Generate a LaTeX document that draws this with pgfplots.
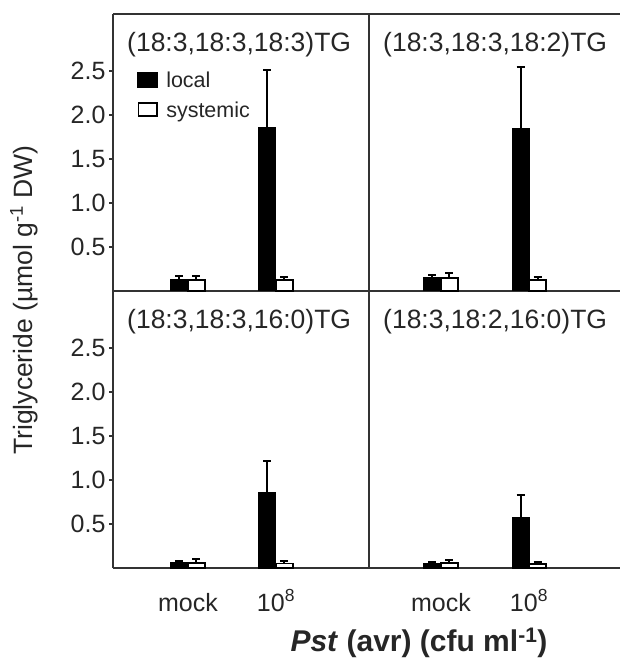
\documentclass[border=0pt]{standalone}
\usepackage{fontspec}
\setmainfont{Liberation Sans}
\usepackage{pgfplots}
\pgfplotsset{compat=1.18}

\definecolor{axisgray}{HTML}{333333}

\pgfplotsset{
  panel/.style={
    scale only axis,
    height=277pt,
    ymin=0, ymax=3.148,
    axis x line*=bottom, axis y line*=left,
    axis line style={draw=axisgray, line width=1.6pt},
    ytick={0.5,1,1.5,2,2.5},
    tick align=outside,
    major tick length=4pt,
    major y tick style={draw=axisgray, line width=1.6pt},
    major x tick style={draw=none},
    xtick={1,2},
    ybar=0pt, bar width=17pt,
    yticklabel style={font=\fontsize{25}{30}\selectfont, text=black!85,
      /pgf/number format/.cd, fixed, fixed zerofill, precision=1, assume math mode=true},
    xticklabel style={font=\fontsize{25}{30}\selectfont, text=black!85, anchor=base, yshift=-39pt},
    clip=false,
  },
  leftpanel/.style={panel, width=256pt, xmin=0.148, xmax=3.057},
  rightpanel/.style={panel, width=251pt, xmin=0.182, xmax=3.034, ytick=\empty},
  localbar/.style={fill=black, draw=black, line width=1pt},
  sysbar/.style={fill=white, draw=black, line width=1.6pt},
  errs/.style={/pgfplots/error bars/.cd, y dir=plus, y explicit,
    error bar style={line width=2pt, black},
    error mark options={rotate=90, mark size=4pt, line width=2pt, black}},
}
\tikzset{
  ttl/.style={anchor=base west, xshift=14pt, yshift=-38pt,
    font=\fontsize{26.5}{30}\selectfont, text=black!85, inner sep=0pt},
  topline/.style={draw=axisgray, line width=1.6pt},
}

\begin{document}
\begin{tikzpicture}
\path[use as bounding box] (0,0) rectangle (621pt,662pt);

% top left
\begin{axis}[leftpanel, at={(113pt,371pt)}, anchor=south west, xticklabels={},
  legend style={at={(0.094,0.79)}, anchor=north west, draw=none, fill=none,
    inner sep=0pt, row sep=12pt, font=\fontsize{21.5}{26}\selectfont,
    nodes={inner sep=0pt, text=black!85},
    /tikz/every odd column/.append style={column sep=8pt}},
  legend cell align=left]
\addplot[localbar, legend image code/.code={\draw[fill=black,draw=black,line width=1pt] (0pt,-7pt) rectangle (20pt,8pt);}, errs]
  coordinates {(1,0.136) +- (0,0.030) (2,1.86) +- (0,0.65)};
\addlegendentry{local}
\addplot[sysbar, legend image code/.code={\draw[fill=white,draw=black,line width=1.6pt] (0.8pt,-6.2pt) rectangle (19.2pt,7.2pt);}, errs]
  coordinates {(1,0.125) +- (0,0.045) (2,0.125) +- (0,0.035)};
\addlegendentry{systemic}
\node[ttl] at (rel axis cs:0,1) {(18:3,18:3,18:3)TG};
\draw[topline] (rel axis cs:0,1) -- (rel axis cs:1,1);
\end{axis}

% top right
\begin{axis}[rightpanel, at={(369pt,371pt)}, anchor=south west, xticklabels={}]
\addplot[localbar, errs] coordinates {(1,0.15) +- (0,0.035) (2,1.85) +- (0,0.69)};
\addplot[sysbar, errs] coordinates {(1,0.15) +- (0,0.055) (2,0.125) +- (0,0.035)};
\node[ttl] at (rel axis cs:0,1) {(18:3,18:3,18:2)TG};
\draw[topline] (rel axis cs:0,1) -- (rel axis cs:1,1);
\end{axis}

% bottom left
\begin{axis}[leftpanel, at={(113pt,94pt)}, anchor=south west,
  xticklabels={mock,10\textsuperscript{8}}]
\addplot[localbar, errs] coordinates {(1,0.057) +- (0,0.025) (2,0.86) +- (0,0.36)};
\addplot[sysbar, errs] coordinates {(1,0.06) +- (0,0.04) (2,0.05) +- (0,0.03)};
\node[ttl] at (rel axis cs:0,1) {(18:3,18:3,16:0)TG};
\end{axis}

% bottom right
\begin{axis}[rightpanel, at={(369pt,94pt)}, anchor=south west,
  xticklabels={mock,10\textsuperscript{8}}]
\addplot[localbar, errs] coordinates {(1,0.05) +- (0,0.02) (2,0.57) +- (0,0.26)};
\addplot[sysbar, errs] coordinates {(1,0.06) +- (0,0.03) (2,0.045) +- (0,0.025)};
\node[ttl] at (rel axis cs:0,1) {(18:3,18:2,16:0)TG};
\end{axis}

\node[rotate=90, anchor=base, font=\fontsize{26.5}{30}\selectfont, text=black!85]
  at (32pt,362pt) {Triglyceride (µmol g\textsuperscript{-1} DW)};
\node[anchor=base, font=\fontsize{30}{34}\selectfont\bfseries, text=black!85]
  at (419pt,10pt) {\textit{Pst} (avr) (cfu ml\textsuperscript{-1})};
\end{tikzpicture}
\end{document}
